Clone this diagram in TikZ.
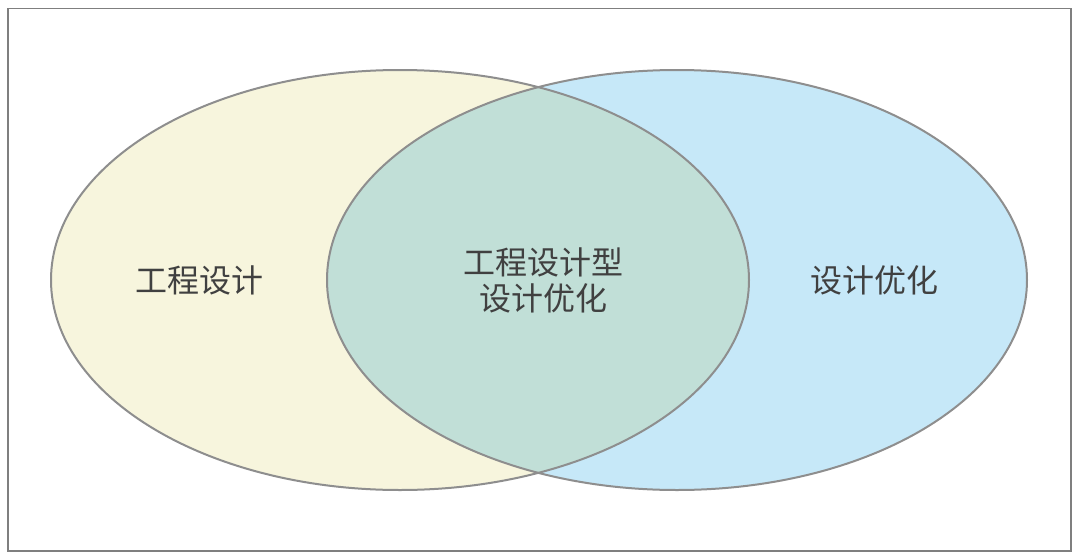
\documentclass[tikz,border=0pt]{standalone}
\usepackage{fontspec}
\newfontfamily\cjk{Noto Sans CJK SC}
\definecolor{frameGray}{HTML}{7F7F7F}
\definecolor{edgeGray}{HTML}{8E8E8E}
\definecolor{fillY}{HTML}{F7F5DD}
\definecolor{fillB}{HTML}{C6E8F8}
\definecolor{fillG}{HTML}{C1DFD7}
\definecolor{txt}{HTML}{404040}
\begin{document}
\begin{tikzpicture}[x=1pt,y=-1pt,
  lbl/.style={font=\cjk\fontsize{32}{36}\selectfont, text=txt, align=center, inner sep=0pt},
  edge/.style={draw=edgeGray, line width=2pt}]
\useasboundingbox (0,0) rectangle (1080,560);
\fill[white] (0,0) rectangle (1080,560);
\draw[frameGray, line width=1.6pt] (8,8.5) rectangle (1071,551);
\coordinate (cl) at (400,280);
\coordinate (cr) at (677,280);
\fill[fillY] (cl) ellipse [x radius=349, y radius=210];
\fill[fillB] (cr) ellipse [x radius=350, y radius=210];
\begin{scope}
  \clip (cl) ellipse [x radius=349, y radius=210];
  \fill[fillG] (cr) ellipse [x radius=350, y radius=210];
\end{scope}
\draw[edge] (cl) ellipse [x radius=349, y radius=210];
\draw[edge] (cr) ellipse [x radius=350, y radius=210];
\node[lbl] (a) at (199,280) {工程设计};
\node[lbl] (b) at (543,280) {工程设计型\\设计优化};
\node[lbl] (c) at (874,280) {设计优化};
\end{tikzpicture}
\end{document}
